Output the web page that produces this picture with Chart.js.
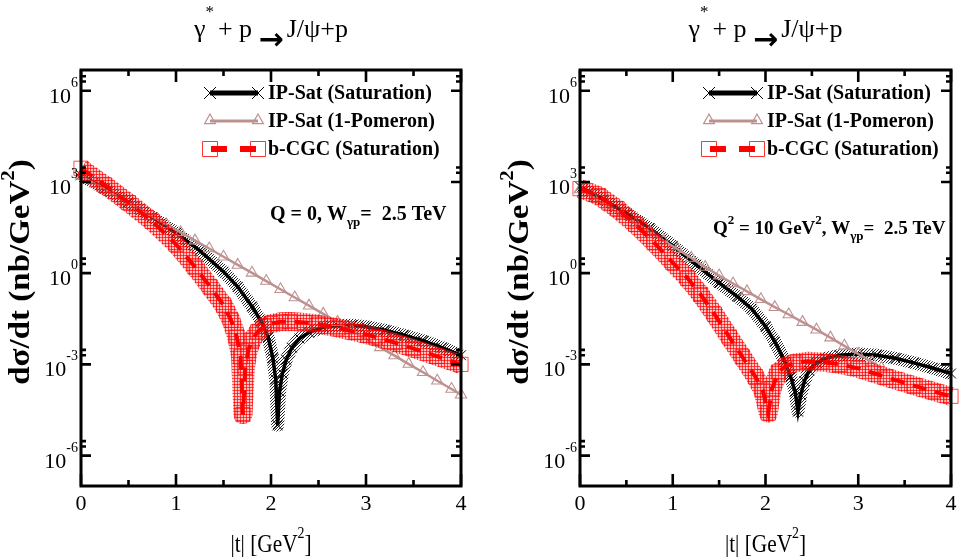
<!DOCTYPE html>
<html><head><meta charset="utf-8">
<script src="https://cdn.jsdelivr.net/npm/chart.js@4.4.1/dist/chart.umd.min.js"></script>
<style>
html,body{margin:0;padding:0;background:#fff;}
#wrap{position:relative;width:962px;height:559px;overflow:hidden;background:#fff;}
canvas{position:absolute;top:0;}
</style></head><body>
<div id="wrap">
<canvas id="c1" width="481" height="559" style="left:0"></canvas>
<canvas id="c2" width="481" height="559" style="left:481px"></canvas>
</div>
<script>
// ---------- data (y stored as log10 of dσ/dt in nb/GeV²) ----------
const xTickValues = [0, 1, 2, 3, 4];
const xTickLabels = ['0', '1', '2', '3', '4'];
const xMinorTicks = [0.5, 1.5, 2.5, 3.5];
const yMajorExponents = [-6, -3, 0, 3, 6];
const yMinorFactors = [2, 3];
const legendLabels = ['IP-Sat (Saturation)', 'IP-Sat (1-Pomeron)', 'b-CGC (Saturation)'];

// Left panel: Q = 0, W = 2.5 TeV
const tSatQ0 = [0,0.25,0.5,0.75,1.0,1.25,1.5,1.65,1.8,1.9,1.97,2.02,2.05,2.07,2.09,2.12,2.16,2.22,2.3,2.4,2.55,2.7,2.85,3.0,3.2,3.4,3.6,3.8,4.0];
const lgSatQ0 = [3.22,2.78,2.32,1.84,1.32,0.74,0.05,-0.45,-1.1,-1.6,-2.1,-2.8,-3.5,-5.0,-3.9,-3.3,-2.85,-2.45,-2.15,-1.95,-1.78,-1.72,-1.71,-1.76,-1.88,-2.04,-2.22,-2.45,-2.7];
const tPomQ0 = [0,0.15,0.3,0.45,0.6,0.75,0.9,1.05,1.2,1.35,1.5,1.65,1.8,1.95,2.1,2.25,2.4,2.55,2.7,2.85,3.0,3.15,3.3,3.45,3.6,3.75,3.9,4.0];
const lgPomQ0 = [3.20,2.94,2.67,2.40,2.13,1.87,1.60,1.34,1.07,0.81,0.54,0.27,0.01,-0.26,-0.53,-0.80,-1.07,-1.34,-1.61,-1.89,-2.16,-2.44,-2.71,-2.99,-3.26,-3.54,-3.81,-4.0];
const tCgcQ0 = [0,0.25,0.5,0.75,1.0,1.2,1.36,1.5,1.58,1.64,1.68,1.705,1.73,1.76,1.8,1.86,1.93,2.0,2.1,2.2,2.35,2.5,2.7,2.9,3.1,3.3,3.5,3.75,4.0];
const lgCgcQ0 = [3.45,2.9,2.32,1.7,0.95,0.2,-0.45,-1.05,-1.55,-2.1,-2.75,-4.65,-3.1,-2.55,-2.2,-1.93,-1.75,-1.66,-1.6,-1.59,-1.62,-1.68,-1.8,-1.94,-2.1,-2.28,-2.48,-2.74,-3.0];

// Right panel: Q² = 10 GeV², W = 2.5 TeV
const tSatQ10 = [0,0.25,0.5,0.75,1.0,1.25,1.5,1.7,1.85,2.0,2.1,2.2,2.27,2.32,2.35,2.38,2.42,2.47,2.55,2.65,2.8,3.0,3.2,3.4,3.6,3.8,4.0];
const lgSatQ10 = [2.85,2.42,1.97,1.48,0.9,0.28,-0.32,-0.78,-1.17,-1.75,-2.25,-2.85,-3.4,-3.9,-4.55,-4.0,-3.55,-3.2,-2.95,-2.8,-2.7,-2.66,-2.7,-2.8,-2.95,-3.12,-3.3];
const tPomQ10 = [0,0.15,0.3,0.45,0.6,0.75,0.9,1.05,1.2,1.35,1.5,1.65,1.8,1.95,2.1,2.25,2.4,2.55,2.7,2.85,3.0,3.15,3.25];
const lgPomQ10 = [2.75,2.47,2.19,1.91,1.63,1.35,1.07,0.79,0.50,0.20,-0.08,-0.34,-0.60,-0.86,-1.12,-1.36,-1.61,-1.86,-2.12,-2.39,-2.66,-2.93,-3.12];
const tCgcQ10 = [0,0.2,0.4,0.6,0.8,1.0,1.16,1.3,1.45,1.61,1.75,1.89,1.97,2.03,2.07,2.14,2.22,2.32,2.45,2.6,2.8,3.0,3.3,3.6,3.8,4.0];
const lgCgcQ10 = [2.78,2.55,2.12,1.6,1.0,0.35,-0.17,-0.7,-1.35,-2.1,-2.75,-3.4,-3.85,-4.6,-3.8,-3.25,-3.05,-2.95,-2.9,-2.92,-3.0,-3.13,-3.42,-3.7,-3.88,-4.05];

// ---------- styling ----------
const SERIF = "'Liberation Serif', 'Times New Roman', serif";
const PINK = 'rgb(190,145,145)';
const RED = '#ff0000';

function toPoints(t, lg) { return t.map((v, i) => ({ x: v, y: Math.pow(10, lg[i]) })); }

function makePattern(kind) {
  const c = document.createElement('canvas');
  c.width = 3; c.height = 3;
  const g = c.getContext('2d');
  if (kind === 'diag') {
    g.fillStyle = 'rgba(0,0,0,0.85)';
    g.fillRect(2, 0, 1, 1); g.fillRect(1, 1, 1, 1); g.fillRect(0, 2, 1, 1);
  } else {
    g.fillStyle = 'rgba(255,0,0,0.75)';
    g.fillRect(0, 0, 3, 1); g.fillRect(0, 0, 1, 3);
    g.fillStyle = 'rgba(255,90,90,0.35)';
    g.fillRect(1, 1, 2, 2);
  }
  return g.createPattern(c, 'repeat');
}

function drawParts(ctx, parts, x, y, align) {
  let total = 0;
  parts.forEach(p => { ctx.font = p.f; p.w = ctx.measureText(p.t).width * (p.sx || 1); total += p.w + (p.gap || 0); });
  let cx = align === 'center' ? x - total / 2 : (align === 'right' ? x - total : x);
  parts.forEach(p => {
    ctx.font = p.f;
    ctx.save();
    ctx.translate(cx, y + (p.dy || 0));
    if (p.sx) ctx.scale(p.sx, 1);
    ctx.textAlign = 'left';
    ctx.textBaseline = 'alphabetic';
    ctx.fillText(p.t, 0, 0);
    ctx.restore();
    cx += p.w + (p.gap || 0);
  });
}

function drawMarker(ctx, style, x, y, r, color, lw) {
  ctx.save();
  ctx.strokeStyle = color; ctx.lineWidth = lw; ctx.beginPath();
  if (style === 'x') {
    ctx.moveTo(x - r, y - r); ctx.lineTo(x + r, y + r);
    ctx.moveTo(x - r, y + r); ctx.lineTo(x + r, y - r);
  } else if (style === 'tri') {
    ctx.moveTo(x, y - r); ctx.lineTo(x + r * 0.9, y + r * 0.6); ctx.lineTo(x - r * 0.9, y + r * 0.6); ctx.closePath();
  } else {
    ctx.rect(x - r, y - r, 2 * r, 2 * r);
  }
  ctx.stroke();
  ctx.restore();
}

const decor = {
  id: 'decor',
  afterDraw(chart, args, o) {
    const ctx = chart.ctx, a = chart.chartArea, xs = chart.scales.x, ys = chart.scales.y;
    ctx.save();
    ctx.fillStyle = '#000';
    // frame
    ctx.strokeStyle = '#000'; ctx.lineWidth = 3;
    ctx.strokeRect(a.left, a.top, a.right - a.left, a.bottom - a.top);
    // x ticks (inward, bottom and top)
    ctx.lineWidth = 2.6;
    ctx.beginPath();
    xTickValues.forEach(v => { const px = xs.getPixelForValue(v);
      ctx.moveTo(px, a.bottom); ctx.lineTo(px, a.bottom - 12);
      ctx.moveTo(px, a.top); ctx.lineTo(px, a.top + 12); });
    xMinorTicks.forEach(v => { const px = xs.getPixelForValue(v);
      ctx.moveTo(px, a.bottom); ctx.lineTo(px, a.bottom - 6);
      ctx.moveTo(px, a.top); ctx.lineTo(px, a.top + 6); });
    // y ticks (inward, left and right)
    yMajorExponents.forEach(e => { const py = ys.getPixelForValue(Math.pow(10, e));
      ctx.moveTo(a.left, py); ctx.lineTo(a.left + 10, py);
      ctx.moveTo(a.right, py); ctx.lineTo(a.right - 10, py);
      yMinorFactors.forEach(f => { const pm = ys.getPixelForValue(f * Math.pow(10, e));
        ctx.moveTo(a.left, pm); ctx.lineTo(a.left + 5, pm);
        ctx.moveTo(a.right, pm); ctx.lineTo(a.right - 5, pm); });
    });
    ctx.stroke();
    // x tick labels
    ctx.font = '22px ' + SERIF; ctx.textAlign = 'center'; ctx.textBaseline = 'alphabetic';
    xTickValues.forEach((v, i) => ctx.fillText(xTickLabels[i], xs.getPixelForValue(v), 510));
    // y tick labels 10^e
    yMajorExponents.forEach(e => { const py = ys.getPixelForValue(Math.pow(10, e));
      drawParts(ctx, [{ t: '10', f: '22px ' + SERIF }, { t: String(e), f: '14px ' + SERIF, dy: -16 }], a.left - 3, py + 12, 'right'); });
    // x title
    drawParts(ctx, [{ t: '|t| [GeV', f: '26px ' + SERIF, sx: 0.82 }, { t: '2', f: '17px ' + SERIF, dy: -14, sx: 0.82 }, { t: ']', f: '26px ' + SERIF, sx: 0.82 }],
      (a.left + a.right) / 2, 552, 'center');
    // y title (rotated)
    ctx.save();
    ctx.translate(o.yTitleX, o.yTitleY);
    ctx.rotate(-Math.PI / 2);
    const st = o.yTitleStretch;
    drawParts(ctx, [{ t: 'd\u03C3/dt (nb/GeV', f: 'bold 30px ' + SERIF, sx: st }, { t: '2', f: 'bold 19px ' + SERIF, dy: -15, sx: st }, { t: ')', f: 'bold 30px ' + SERIF, sx: st }], 0, 0, 'center');
    ctx.restore();
    // title
    drawParts(ctx, [
      { t: '\u03B3', f: '26px ' + SERIF },
      { t: '*', f: '17px ' + SERIF, dy: -20, gap: 4 },
      { t: '+ p ', f: '26px ' + SERIF },
      { t: '\u2192', f: "bold 30px 'DejaVu Sans', sans-serif", dy: 12, gap: 3 },
      { t: 'J/\u03C8+p', f: '26px ' + SERIF }
    ], (a.left + a.right) / 2, 37, 'center');
    // legend
    const lx1 = o.legendX, lx2 = o.legendX + 48, tx = o.legendX + 58;
    const rows = [93, 121, 149];
    ctx.lineWidth = 5; ctx.strokeStyle = '#000'; ctx.setLineDash([]);
    ctx.beginPath(); ctx.moveTo(lx1, rows[0]); ctx.lineTo(lx2, rows[0]); ctx.stroke();
    drawMarker(ctx, 'x', lx1, rows[0], 6, '#000', 1);
    drawMarker(ctx, 'x', lx2, rows[0], 6, '#000', 1);
    ctx.lineWidth = 3; ctx.strokeStyle = PINK;
    ctx.beginPath(); ctx.moveTo(lx1, rows[1]); ctx.lineTo(lx2, rows[1]); ctx.stroke();
    drawMarker(ctx, 'tri', lx1, rows[1] - 1, 6, PINK, 1.2);
    drawMarker(ctx, 'tri', lx2, rows[1] - 1, 6, PINK, 1.2);
    ctx.lineWidth = 6; ctx.strokeStyle = RED; ctx.setLineDash([16, 13]);
    ctx.beginPath(); ctx.moveTo(lx1 + 1, rows[2]); ctx.lineTo(lx2, rows[2]); ctx.stroke();
    ctx.setLineDash([]);
    drawMarker(ctx, 'sq', lx1, rows[2], 7.5, 'rgba(255,0,0,0.8)', 1);
    drawMarker(ctx, 'sq', lx2, rows[2], 7.5, 'rgba(255,0,0,0.8)', 1);
    ctx.fillStyle = '#000';
    ctx.textBaseline = 'middle'; ctx.textAlign = 'left';
    ctx.font = 'bold 20px ' + SERIF;
    legendLabels.forEach((l, i) => ctx.fillText(l, tx, rows[i] + 1));
    // annotation
    ctx.textBaseline = 'alphabetic';
    drawParts(ctx, o.annotation, o.annX, o.annY, 'left');
    ctx.restore();
  }
};

function makePanel(id, cfg, sat, pom, cgc) {
  const hatchBlack = makePattern('diag');
  const hatchRed = makePattern('grid');
  new Chart(document.getElementById(id), {
    type: 'line',
    data: {
      datasets: [
        { label: legendLabels[2], data: cgc, order: 0, borderColor: RED, borderWidth: 4, borderDash: [14, 9],
          pointStyle: 'rect', pointRadius: 10, pointBorderWidth: 1, pointBorderColor: 'rgba(255,0,0,0.7)', pointBackgroundColor: 'rgba(0,0,0,0)', clip: false, tension: 0 },
        { label: 'band-cgc', data: cgc, order: 1, borderColor: hatchRed, borderWidth: 19, pointRadius: 0, clip: false, tension: 0, borderJoinStyle: 'round' },
        { label: legendLabels[1], data: pom, order: 2, borderColor: PINK, borderWidth: 2.5,
          pointStyle: 'triangle', pointRadius: 6.5, pointBorderWidth: 1.1, pointBorderColor: PINK, pointBackgroundColor: 'rgba(0,0,0,0)', clip: false, tension: 0 },
        { label: legendLabels[0], data: sat, order: 3, borderColor: '#000', borderWidth: 3.5,
          pointStyle: 'crossRot', pointRadius: 7, pointBorderWidth: 1, pointBorderColor: '#000', clip: false, tension: 0 },
        { label: 'band-sat', data: sat, order: 4, borderColor: hatchBlack, borderWidth: 13, pointRadius: 0, clip: false, tension: 0, borderJoinStyle: 'round' }
      ]
    },
    options: {
      responsive: false, animation: false, events: [],
      layout: { padding: { left: 0, right: cfg.padRight, top: 70, bottom: 0 } },
      scales: {
        x: { type: 'linear', min: 0, max: 4, ticks: { display: false }, grid: { display: false, drawTicks: false }, border: { display: false },
             afterFit(s) { s.height = 73; } },
        y: { type: 'logarithmic', min: 1e-7, max: 4.8e6, ticks: { display: false }, grid: { display: false, drawTicks: false }, border: { display: false },
             afterFit(s) { s.width = cfg.yWidth; } }
      },
      plugins: { legend: { display: false }, tooltip: { enabled: false }, decor: cfg }
    },
    plugins: [decor]
  });
}

const B20 = 'bold 20px ' + SERIF, B19 = 'bold 19px ' + SERIF, B13 = 'bold 13px ' + SERIF;
makePanel('c1', {
  yWidth: 81, padRight: 20, legendX: 210, yTitleX: 29, yTitleY: 272, yTitleStretch: 1.1,
  annX: 270, annY: 220,
  annotation: [{ t: 'Q = 0, W', f: B20 }, { t: '\u03B3p', f: B13, dy: 6 }, { t: '=  2.5 TeV', f: B20 }]
}, toPoints(tSatQ0, lgSatQ0), toPoints(tPomQ0, lgPomQ0), toPoints(tCgcQ0, lgCgcQ0));

makePanel('c2', {
  yWidth: 99, padRight: 2, legendX: 228, yTitleX: 47, yTitleY: 272, yTitleStretch: 1.1,
  annX: 232, annY: 234,
  annotation: [{ t: 'Q', f: B19 }, { t: '2', f: B13, dy: -10 }, { t: ' = 10 GeV', f: B19 }, { t: '2', f: B13, dy: -10 }, { t: ', W', f: B19 }, { t: '\u03B3p', f: B13, dy: 6 }, { t: '=  2.5 TeV', f: B19 }]
}, toPoints(tSatQ10, lgSatQ10), toPoints(tPomQ10, lgPomQ10), toPoints(tCgcQ10, lgCgcQ10));
</script>
</body></html>
